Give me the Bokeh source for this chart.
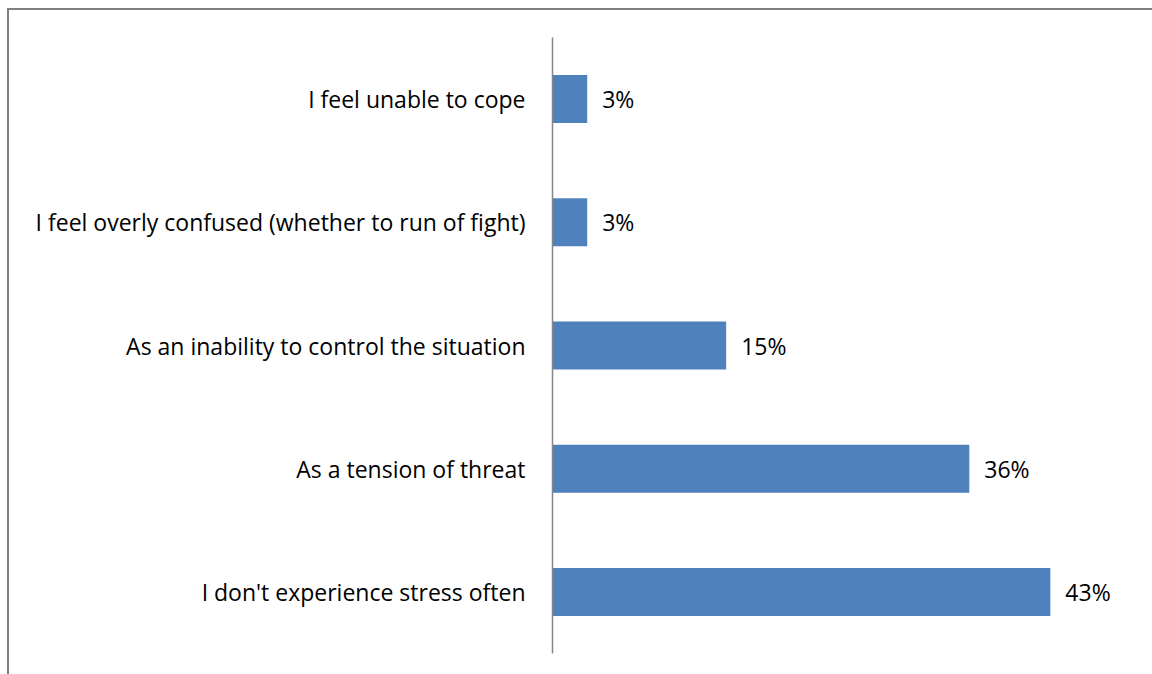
from bokeh.plotting import figure
from bokeh.models import FactorRange, Range1d, ColumnDataSource, LabelSet
from bokeh.core.properties import value
from bokeh.embed import file_html
from bokeh.resources import INLINE

categories = [
    "I don't experience stress often",
    "As a tension of threat",
    "As an inability to control the situation",
    "I feel overly confused (whether to run of fight)",
    "I feel unable to cope",
]
values = [43, 36, 15, 3, 3]
labels = [f"{v}%" for v in values]

FONT = "Open Sans"
FS = "23px"

src = ColumnDataSource(dict(cat=categories, val=values, lab=labels))

p = figure(
    width=1145, height=666,
    y_range=FactorRange(*categories, range_padding=0),
    x_range=Range1d(0, 50.7),
    output_backend="svg", toolbar_location=None,
    min_border_left=543, min_border_top=27, min_border_bottom=23, min_border_right=15,
)
p.styles = {"border-left": "2px solid #808080", "border-top": "2px solid #808080",
            "margin-left": "7px", "margin-top": "8px"}
p.outline_line_color = None
p.xgrid.visible = False
p.ygrid.visible = False
p.xaxis.visible = False

p.hbar(y="cat", right="val", left=0, height=0.39, source=src,
       fill_color="#4F81BD", line_color=None)

p.yaxis.axis_line_color = "#868686"
p.yaxis.axis_line_width = 1.5
p.yaxis.major_tick_line_color = None
p.yaxis.minor_tick_line_color = None
p.yaxis.major_label_text_font = FONT
p.yaxis.major_label_text_font_size = FS
p.yaxis.major_label_text_color = "#000000"
p.yaxis.major_label_standoff = 21

ls = LabelSet(x="val", y="cat", text="lab", source=src, x_offset=15,
              text_baseline="middle", text_align="left",
              text_font=value(FONT), text_font_size=value(FS), text_color="#000000")
p.add_layout(ls)

open("out.html", "w").write(file_html(p, INLINE))
